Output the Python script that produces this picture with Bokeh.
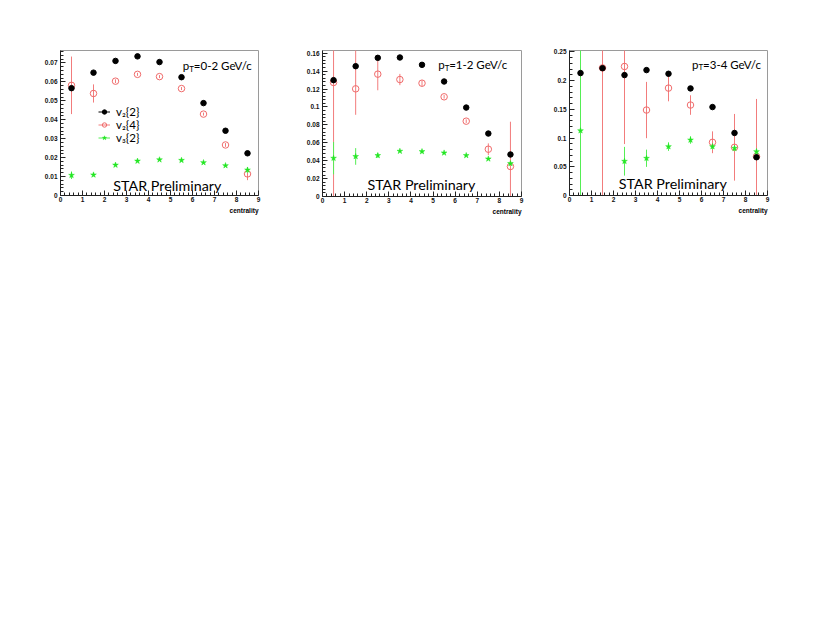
import numpy as np
from bokeh.plotting import figure
from bokeh.models import (ColumnDataSource, FixedTicker, Label, Title, Legend,
                          LegendItem)
from bokeh.layouts import row
from bokeh.embed import file_html
from bokeh.resources import INLINE

nan = float("nan")

# ---------------- data ----------------
centrality = [0.5, 1.5, 2.5, 3.5, 4.5, 5.5, 6.5, 7.5, 8.5]

# pT = 0-2 GeV/c
p1_v22 = [0.0567, 0.0649, 0.0711, 0.0735, 0.0705, 0.0625, 0.0488, 0.0342, 0.0223]
p1_v22_err = [0.0004] * 9
p1_v24 = [0.0582, 0.0539, 0.0604, 0.0640, 0.0628, 0.0565, 0.0430, 0.0267, 0.0114]
p1_v24_err_lo = [0.0152, 0.0048, 0.0010, 0.0008, 0.0008, 0.0008, 0.0008, 0.0010, 0.0033]
p1_v24_err_hi = [0.0152, 0.0048, 0.0010, 0.0008, 0.0008, 0.0008, 0.0008, 0.0010, 0.0033]
p1_v32 = [0.0107, 0.0109, 0.0161, 0.0182, 0.0189, 0.0186, 0.0174, 0.0158, 0.0135]
p1_v32_err = [0.0020, 0.0008, 0.0005, 0.0005, 0.0005, 0.0005, 0.0005, 0.0006, 0.0015]

# pT = 1-2 GeV/c
p2_v22 = [0.1299, 0.1455, 0.1548, 0.1552, 0.1470, 0.1284, 0.0993, 0.0703, 0.0469]
p2_v22_err = [0.0010] * 9
p2_v24 = [0.1273, 0.1202, 0.1366, 0.1306, 0.1265, 0.1113, 0.0841, 0.0528, 0.0335]
p2_v24_err_lo = [0.150, 0.029, 0.018, 0.0063, 0.0030, 0.0020, 0.0020, 0.0065, 0.050]
p2_v24_err_hi = [0.150, 0.060, 0.018, 0.0063, 0.0030, 0.0020, 0.0020, 0.0065, 0.050]
p2_v32 = [0.0428, 0.0447, 0.0458, 0.0506, 0.0502, 0.0487, 0.0458, 0.0420, 0.0368]
p2_v32_err = [0.018, 0.0093, 0.0026, 0.0010, 0.0010, 0.0010, 0.0010, 0.0010, 0.0010]

# pT = 3-4 GeV/c
p3_v22 = [0.2130, 0.2216, 0.2095, 0.2182, 0.2118, 0.1863, 0.1539, 0.1088, 0.0666]
p3_v22_err = [0.0020] * 9
p3_v24 = [nan, 0.2220, 0.2245, 0.1487, 0.1869, 0.1574, 0.0926, 0.0839, 0.0680]
p3_v24_err_lo = [nan, 0.300, 0.135, 0.049, 0.023, 0.017, 0.019, 0.058, 0.100]
p3_v24_err_hi = [nan, 0.300, 0.135, 0.049, 0.023, 0.017, 0.019, 0.058, 0.100]
p3_v32 = [0.1128, nan, 0.0596, 0.0648, 0.0851, 0.0966, 0.0851, 0.0822, 0.0764]
p3_v32_err = [0.160, nan, 0.025, 0.015, 0.0075, 0.0066, 0.0050, 0.0050, 0.0050]

x_ticks = [0, 1, 2, 3, 4, 5, 6, 7, 8, 9]
x_tick_labels = ["0", "1", "2", "3", "4", "5", "6", "7", "8", "9"]
p1_y_ticks = [0, 0.01, 0.02, 0.03, 0.04, 0.05, 0.06, 0.07]
p1_y_labels = ["0", "0.01", "0.02", "0.03", "0.04", "0.05", "0.06", "0.07"]
p2_y_ticks = [0, 0.02, 0.04, 0.06, 0.08, 0.1, 0.12, 0.14, 0.16]
p2_y_labels = ["0", "0.02", "0.04", "0.06", "0.08", "0.1", "0.12", "0.14", "0.16"]
p3_y_ticks = [0, 0.05, 0.1, 0.15, 0.2, 0.25]
p3_y_labels = ["0", "0.05", "0.1", "0.15", "0.2", "0.25"]

series_names = ["v\u2082{2}", "v\u2082{4}", "v\u2083{2}"]
pt_ranges = ["=0-2 GeV/c", "=1-2 GeV/c", "=3-4 GeV/c"]
x_title = "centrality"
watermark = "STAR Preliminary"

BLACK = "#000000"
RED = "#f06a6a"
RED_LINE = "#f27c7c"
GREEN = "#22e622"
GREEN_LINE = "#55ee55"
TICK_FONT = "Liberation Sans"
TEXT_FONT = "Lato"


def minor(ticks, n=5):
    out = []
    for a, b in zip(ticks[:-1], ticks[1:]):
        for k in range(1, n):
            out.append(a + (b - a) * k / n)
    step = (ticks[1] - ticks[0]) / n
    return out, step


def make_panel(ymax, y_ticks, y_labels, v22, v22e, v24, v24lo, v24hi, v32, v32e,
               pt_label, title_x, title_y, wm_x, wm_y, borders, frame,
               legend=False):
    bl, br, bt, bb = borders
    fw, fh = frame
    p = figure(frame_width=fw, frame_height=fh, x_range=(0, 9), y_range=(0, ymax),
               output_backend="svg", toolbar_location=None,
               min_border_left=bl, min_border_right=br,
               min_border_top=bt, min_border_bottom=bb)
    p.title.visible = False
    p.grid.visible = False
    p.outline_line_color = "#9a9a9a"
    p.outline_line_width = 1
    p.background_fill_color = "white"
    p.border_fill_color = "white"

    # axes
    xmin_ticks, _ = minor(x_ticks)
    p.xaxis.ticker = FixedTicker(ticks=x_ticks, minor_ticks=xmin_ticks)
    p.xaxis.major_label_overrides = {float(t): l for t, l in zip(x_ticks, x_tick_labels)}
    ymin_ticks, ystep = minor(y_ticks)
    ext = []
    v = y_ticks[-1] + ystep
    while v < ymax:
        ext.append(v)
        v += ystep
    p.yaxis.ticker = FixedTicker(ticks=y_ticks, minor_ticks=ymin_ticks + ext)
    p.yaxis.major_label_overrides = {float(t): l for t, l in zip(y_ticks, y_labels)}
    for ax in (p.xaxis[0], p.yaxis[0]):
        ax.axis_line_color = "#222222"
        ax.major_tick_line_color = "#222222"
        ax.minor_tick_line_color = "#222222"
        ax.major_tick_in = 5
        ax.major_tick_out = 0
        ax.minor_tick_in = 3
        ax.minor_tick_out = 0
        ax.major_label_text_font = TICK_FONT
        ax.major_label_text_font_size = "6.5px"
        ax.major_label_text_font_style = "bold"
        ax.major_label_text_color = "#111111"
    p.xaxis.major_label_standoff = 1
    p.yaxis.major_label_standoff = 3

    t = Title(text=x_title, align="right", text_font=TICK_FONT,
              text_font_size="6.5px", text_font_style="bold",
              text_color="#000000", standoff=0)
    p.add_layout(t, "below")

    # sources
    x = np.array(centrality)
    def src(vals, elo, ehi):
        vals = np.array(vals, dtype=float)
        return ColumnDataSource(dict(x=x, y=vals,
                                     lo=vals - np.array(elo, dtype=float),
                                     hi=vals + np.array(ehi, dtype=float)))
    s24 = src(v24, v24lo, v24hi)
    s32 = src(v32, v32e, v32e)
    s22 = src(v22, v22e, v22e)

    e24 = p.segment(x0="x", y0="lo", x1="x", y1="hi", source=s24,
                    line_color=RED_LINE, line_width=1)
    m24 = p.scatter("x", "y", source=s24, marker="circle", size=6.5,
                    fill_color="white", fill_alpha=0.0, line_color=RED, line_width=1)
    e32 = p.segment(x0="x", y0="lo", x1="x", y1="hi", source=s32,
                    line_color=GREEN_LINE, line_width=1)
    m32 = p.scatter("x", "y", source=s32, marker="star", size=6,
                    fill_color=GREEN, line_color=GREEN, line_width=0.5)
    e22 = p.segment(x0="x", y0="lo", x1="x", y1="hi", source=s22,
                    line_color=BLACK, line_width=1)
    m22 = p.scatter("x", "y", source=s22, marker="circle", size=5.5,
                    fill_color=BLACK, line_color=BLACK)

    # pT label with subscript
    p.add_layout(Label(x=title_x, y=title_y, text="p", text_font=TEXT_FONT,
                       text_font_size="11.5px", text_color="black",
                       text_baseline="alphabetic"))
    p.add_layout(Label(x=title_x, y=title_y, x_offset=6.5, y_offset=-3, text="T",
                       text_font=TEXT_FONT, text_font_size="8px",
                       text_color="black", text_baseline="alphabetic"))
    p.add_layout(Label(x=title_x, y=title_y, x_offset=11, text=pt_label,
                       text_font=TEXT_FONT, text_font_size="11.5px",
                       text_color="black", text_baseline="alphabetic"))
    p.add_layout(Label(x=wm_x, y=wm_y, text=watermark, text_font=TEXT_FONT,
                       text_font_size="14.3px", text_color="black",
                       text_baseline="alphabetic"))

    if legend:
        items = [LegendItem(label=series_names[0], renderers=[e22, m22]),
                 LegendItem(label=series_names[1], renderers=[e24, m24]),
                 LegendItem(label=series_names[2], renderers=[e32, m32])]
        lg = Legend(items=items, location=(38, 51), background_fill_alpha=0,
                    border_line_alpha=0, padding=0, margin=0, spacing=0,
                    glyph_width=12, glyph_height=11, label_height=11,
                    label_standoff=6, label_text_font=TEXT_FONT,
                    label_text_font_size="11.5px", label_text_color="black",
                    label_text_line_height=1.0)
        p.add_layout(lg, "center")
    return p


p1 = make_panel(0.0766, p1_y_ticks, p1_y_labels, p1_v22, p1_v22_err, p1_v24,
                p1_v24_err_lo, p1_v24_err_hi, p1_v32, p1_v32_err, pt_ranges[0],
                5.56, 0.0685, 2.4, 0.0053, (60, 32, 48, 40), (198, 145), legend=True)
p2 = make_panel(0.163, p2_y_ticks, p2_y_labels, p2_v22, p2_v22_err, p2_v24,
                p2_v24_err_lo, p2_v24_err_hi, p2_v32, p2_v32_err, pt_ranges[1],
                5.23, 0.147, 2.03, 0.0131, (32, 28, 49, 39), (199, 146))
p3 = make_panel(0.2523, p3_y_ticks, p3_y_labels, p3_v22, p3_v22_err, p3_v24,
                p3_v24_err_lo, p3_v24_err_hi, p3_v32, p3_v32_err, pt_ranges[2],
                5.57, 0.2287, 2.24, 0.0203, (20, 45, 50, 40), (198, 145))

layout = row(p1, p2, p3)
open("out.html", "w").write(file_html(layout, INLINE))
